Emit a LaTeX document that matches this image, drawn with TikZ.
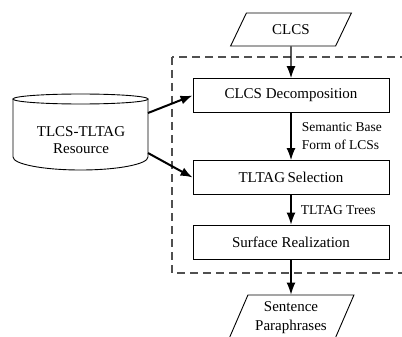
\documentclass[tikz,border=0pt]{standalone}
\usepackage{fontspec}
\setmainfont{Liberation Serif}
\usetikzlibrary{positioning, shapes.geometric, arrows.meta}
\definecolor{dashgray}{RGB}{80,80,80}

\begin{document}
\begin{tikzpicture}[x=1pt, y=-1pt,
    box/.style={draw, minimum width=196pt, minimum height=34pt, align=center, font=\fontsize{15}{18}\selectfont, line width=0.9pt},
    iobox/.style={draw, trapezium, trapezium left angle=65, trapezium right angle=115, trapezium stretches=true, align=center, font=\fontsize{15}{19}\selectfont, line width=0.9pt},
    lbl/.style={font=\fontsize{13.5}{18}\selectfont, align=left},
    arrow/.style={-{Latex[length=12pt, width=9pt]}, line width=1.2pt},
    feed/.style={-{Latex[length=12pt, width=9pt]}, line width=2pt}
]
\useasboundingbox (0,0) rectangle (402,337);
\clip (0,0) rectangle (402,337);

% Dashed frame round the generation steps
\draw[dashgray, dash pattern=on 8pt off 5pt, line width=1.4pt] (172,57) rectangle (412,273);

% Resource (cylinder)
\draw[line width=0.9pt] (13,99) -- (13,157) arc[start angle=180, end angle=0, x radius=67.5, y radius=13] -- (148,99);
\draw[line width=0.9pt] (80.5,99) ellipse[x radius=67.5, y radius=5];
\node[font=\fontsize{15}{17}\selectfont, align=center] (res) at (81,140.5) {TLCS-TLTAG\\Resource};
\coordinate (res-a) at (148,113);
\coordinate (res-b) at (148,153);

% Input, steps, output
\node[iobox, minimum width=121pt, minimum height=33pt] (clcs) at (291,29.5) {CLCS};
\node[box] (dec) at (291,95.5) {CLCS Decomposition};
\node[box] (sel) at (291,177.5) {TLTAG\,Selection};
\node[box] (real) at (291,242) {Surface Realization};
\node[iobox, minimum width=126pt, minimum height=46pt] (out) at (291,318) {Sentence\\Paraphrases};

\draw[arrow] (clcs) -- (dec);
\draw[arrow] (dec) -- node[lbl, right=7pt] {Semantic Base\\Form of LCSs} (sel);
\draw[arrow] (sel) -- node[lbl, right=6pt] {TLTAG Trees} (real);
\draw[arrow] (real) -- (out);

\draw[feed] (res-a) -- (dec.west);
\draw[feed] (res-b) -- (sel.west);

\end{tikzpicture}
\end{document}
